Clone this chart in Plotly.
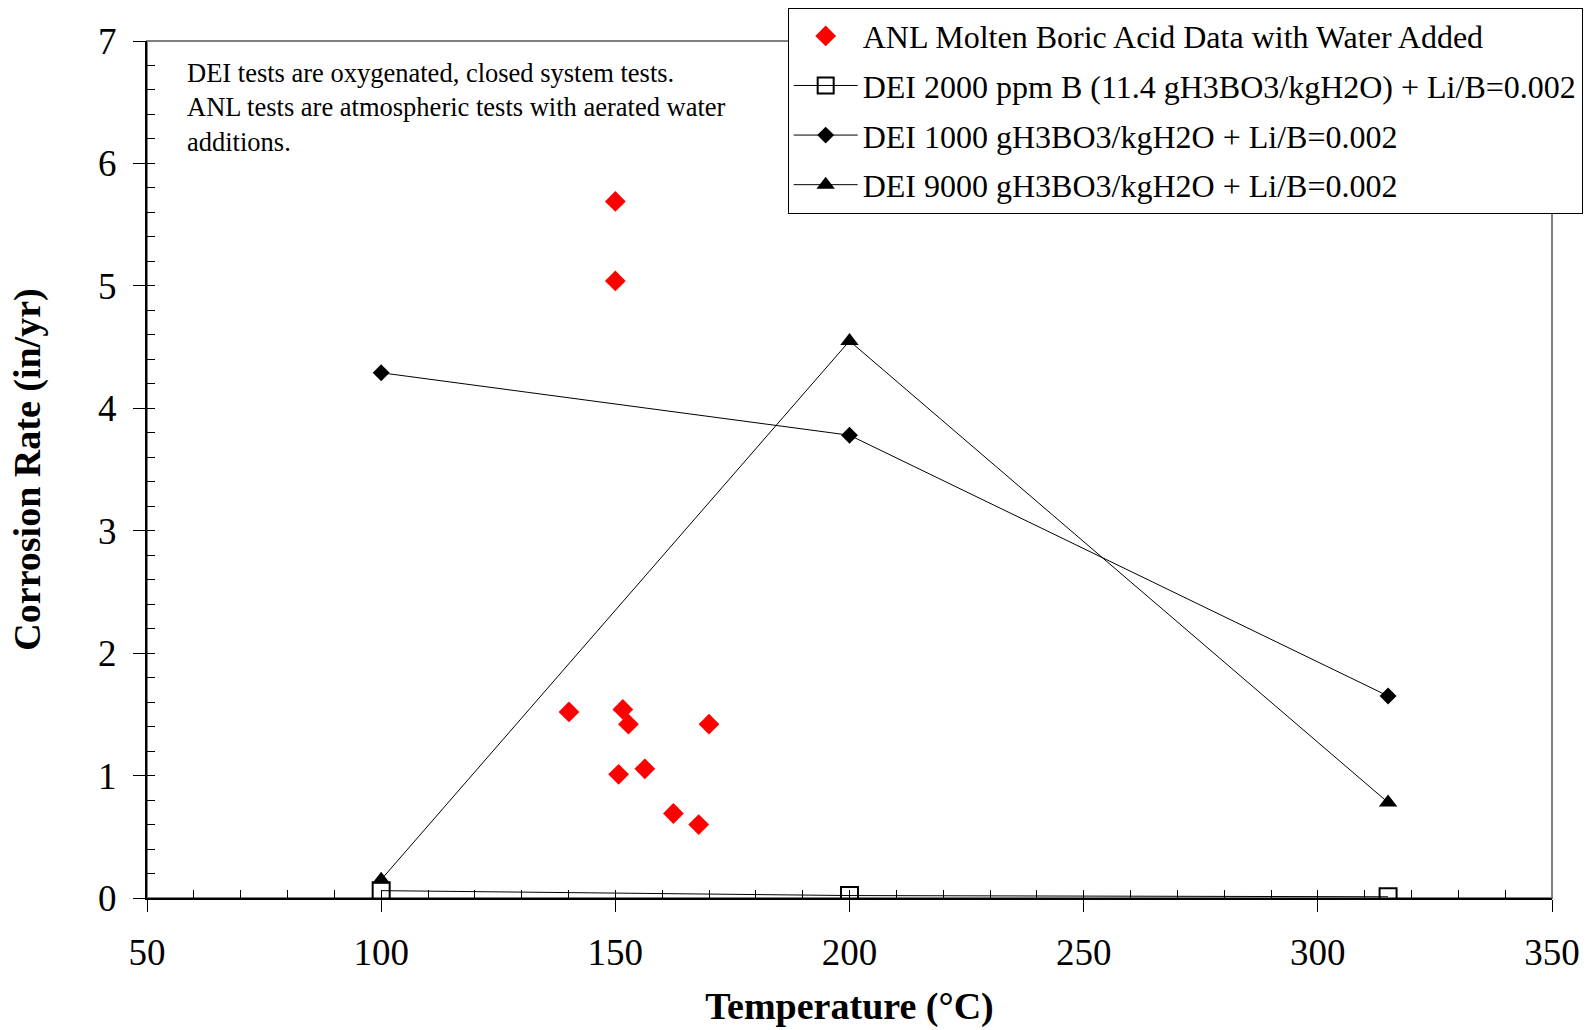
import plotly.graph_objects as go

# ANL molten boric acid tests with water added
anl_temp = [150, 150, 140.1, 151.6, 152.8, 170.0, 150.7, 156.3, 162.4, 167.8]
anl_rate = [5.69, 5.04, 1.52, 1.54, 1.42, 1.42, 1.01, 1.055, 0.69, 0.60]

# DEI closed-system tests
dei_temp = [100, 200, 315]
dei_2000ppm = [0.06, 0.02, 0.01]
dei_1000g = [4.29, 3.78, 1.65]
dei_9000g = [0.15, 4.55, 0.78]

x_range = [50, 350]
y_range = [0, 7]

serif = "Liberation Serif, Times New Roman, serif"

fig = go.Figure()

fig.add_trace(go.Scatter(
    x=anl_temp, y=anl_rate, mode="markers",
    name="ANL Molten Boric Acid Data with Water Added",
    marker=dict(symbol="diamond", size=16, color="#ff0000"),
    legendgroup="g1",
))
fig.add_trace(go.Scatter(
    x=dei_temp, y=dei_2000ppm, mode="lines+markers",
    name="DEI 2000 ppm B (11.4 gH3BO3/kgH2O) + Li/B=0.002",
    line=dict(color="black", width=1),
    marker=dict(symbol="square-open", size=17, color="black", line=dict(width=2, color="black")),
    legendgroup="g2",
))
fig.add_trace(go.Scatter(
    x=dei_temp, y=dei_1000g, mode="lines+markers",
    name="DEI 1000 gH3BO3/kgH2O + Li/B=0.002",
    line=dict(color="black", width=1),
    marker=dict(symbol="diamond", size=13, color="black"),
    legendgroup="g3",
))
fig.add_trace(go.Scatter(
    x=dei_temp, y=dei_9000g, mode="lines+markers",
    name="DEI 9000 gH3BO3/kgH2O + Li/B=0.002",
    line=dict(color="black", width=1),
    marker=dict(symbol="triangle-up", size=16, color="black"),
    legendgroup="g4",
))
# carrier for the inner tick axes
fig.add_trace(go.Scatter(x=[None], y=[None], xaxis="x2", yaxis="y2",
                         showlegend=False, hoverinfo="skip"))

fig.update_layout(
    width=1595, height=1030,
    margin=dict(l=147, r=43, t=41, b=132, autoexpand=False),
    paper_bgcolor="white", plot_bgcolor="white",
    font=dict(family=serif, color="black"),
    showlegend=True,
    legend=dict(
        x=0.456, y=1.039, xanchor="left", yanchor="top",
        bgcolor="white", bordercolor="black", borderwidth=1,
        font=dict(family=serif, size=32, color="black"),
        tracegroupgap=5, itemwidth=64,
    ),
    xaxis=dict(
        range=x_range, dtick=50, tick0=50,
        showline=True, linecolor="black", linewidth=2,
        ticks="outside", ticklen=12, tickwidth=1, tickcolor="black",
        showgrid=False, zeroline=False, automargin=False,
        tickfont=dict(family=serif, size=37, color="black"),
        ticklabelstandoff=9,
        title=dict(text="<b>Temperature (°C)</b>", font=dict(family=serif, size=38, color="black"), standoff=20),
    ),
    yaxis=dict(
        range=y_range, dtick=1, tick0=0,
        showline=True, linecolor="black", linewidth=2,
        ticks="outside", ticklen=12, tickwidth=1, tickcolor="black",
        showgrid=False, zeroline=False, automargin=False,
        tickfont=dict(family=serif, size=37, color="black"),
        ticklabelstandoff=9,
        title=dict(text="<b>Corrosion Rate (in/yr)</b>", font=dict(family=serif, size=38, color="black"), standoff=46),
    ),
    xaxis2=dict(
        overlaying="x", anchor="y2", side="bottom", range=x_range,
        dtick=10, tick0=50, ticks="inside", ticklen=8, tickwidth=1, tickcolor="black",
        showticklabels=False, showline=False, showgrid=False, zeroline=False,
    ),
    yaxis2=dict(
        overlaying="y", anchor="x2", side="left", range=y_range,
        dtick=0.2, tick0=0, ticks="inside", ticklen=8, tickwidth=1, tickcolor="black",
        showticklabels=False, showline=False, showgrid=False, zeroline=False,
    ),
    shapes=[dict(
        type="rect", xref="paper", yref="paper", x0=0, x1=1, y0=0, y1=1,
        line=dict(color="#808080", width=2), layer="below",
    )],
    annotations=[dict(
        xref="paper", yref="paper", x=0.027, y=0.983, xanchor="left", yanchor="top",
        align="left", showarrow=False,
        text="DEI tests are oxygenated, closed system tests.<br>"
             "ANL tests are atmospheric tests with aerated water<br>additions.",
        font=dict(family=serif, size=26.5, color="black"),
    )],
)

fig.write_html("out.html")
